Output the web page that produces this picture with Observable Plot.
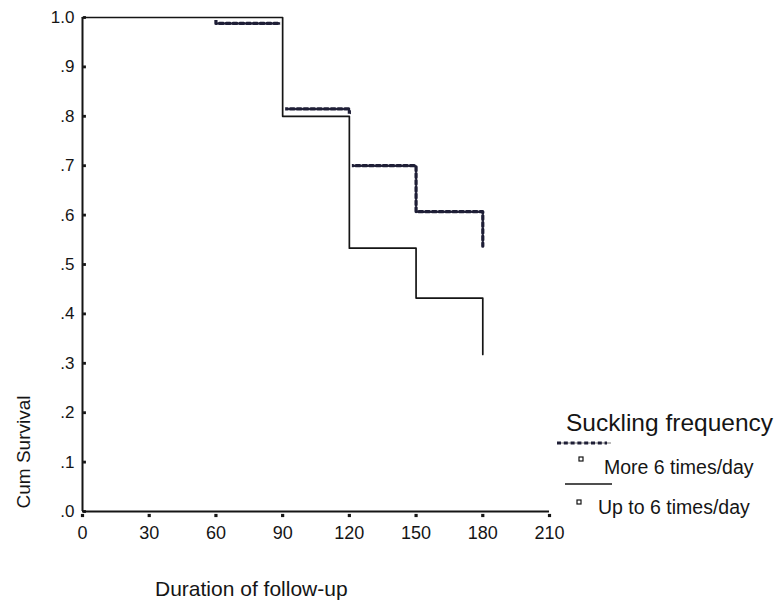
<!DOCTYPE html>
<html><head><meta charset="utf-8">
<script src="https://cdn.jsdelivr.net/npm/d3@7"></script>
<script src="https://cdn.jsdelivr.net/npm/@observablehq/plot@0.6"></script>
<style>
body{margin:0;background:#fff;}
#wrap{position:relative;width:781px;height:603px;font-family:"Liberation Sans",Arial,sans-serif;color:#1a1a1a;}
#overlay{position:absolute;left:0;top:0;pointer-events:none;}
</style></head><body>
<div id="wrap"></div>
<script>
// Series: "More 6 times/day" (dotted)
const moreDays = [0, 60, 90, 120, 150, 180];
const moreSurv = [1.0, 0.988, 0.815, 0.70, 0.607, 0.537];
// Series: "Up to 6 times/day" (solid)
const upToDays = [0, 90, 120, 150, 180];
const upToSurv = [1.0, 0.80, 0.533, 0.432, 0.318];
// Axis ticks
const xTicks = [0, 30, 60, 90, 120, 150, 180, 210];
const yTicks = [0, 0.1, 0.2, 0.3, 0.4, 0.5, 0.6, 0.7, 0.8, 0.9, 1.0];
const yTickLabels = [".0", ".1", ".2", ".3", ".4", ".5", ".6", ".7", ".8", ".9", "1.0"];
// Texts
const xTitle = "Duration of follow-up";
const yTitle = "Cum Survival";
const legendTitle = "Suckling frequency";
const seriesNames = ["More 6 times/day", "Up to 6 times/day"];

const more = moreDays.map((d, i) => ({t: d, s: moreSurv[i]}));
const upTo = upToDays.map((d, i) => ({t: d, s: upToSurv[i]}));
const ink = "#151515";

const chart = Plot.plot({
  width: 781, height: 603,
  marginLeft: 82, marginRight: 232, marginTop: 17, marginBottom: 92,
  style: {fontFamily: '"Liberation Sans", Arial, sans-serif', color: ink, background: "transparent", overflow: "visible"},
  x: {domain: [0, 210]},
  y: {domain: [0, 1]},
  marks: [
    Plot.axisX(xTicks, {tickSize: 0, tickPadding: 15, fontSize: 18, label: null}),
    Plot.axisY(yTicks, {tickSize: 0, tickPadding: 8, fontSize: 17, label: null,
      tickFormat: d => yTickLabels[Math.round(d * 10)]}),
    Plot.line(more, {x: "t", y: "s", curve: "step-after", stroke: "#555", strokeWidth: 0.8}),
    Plot.line(more, {x: "t", y: "s", curve: "step-after", stroke: "#1e1e36", strokeWidth: 3.2, strokeDasharray: "4,2.8"}),
    Plot.line(upTo, {x: "t", y: "s", curve: "step-after", stroke: "white", strokeWidth: 5}),
    Plot.line(upTo, {x: "t", y: "s", curve: "step-after", stroke: ink, strokeWidth: 1.7}),
    Plot.ruleX([0], {stroke: ink, strokeWidth: 2}),
    Plot.ruleY([0], {stroke: ink, strokeWidth: 2}),
    Plot.dot(xTicks, {x: d => d, y: 0, symbol: "square", r: 1.8, fill: ink, stroke: null, dy: 4}),
    Plot.dot(yTicks, {x: 0, y: d => d, symbol: "square", r: 1.6, fill: ink, stroke: null, dx: 2})
  ]
});
const wrap = document.getElementById("wrap");
wrap.appendChild(chart);

const ns = "http://www.w3.org/2000/svg";
const ov = document.createElementNS(ns, "svg");
ov.setAttribute("id", "overlay");
ov.setAttribute("width", 781); ov.setAttribute("height", 603);
ov.setAttribute("font-family", '"Liberation Sans", Arial, sans-serif');
ov.setAttribute("fill", ink);
function add(tag, attrs, text) {
  const el = document.createElementNS(ns, tag);
  for (const k in attrs) el.setAttribute(k, attrs[k]);
  if (text != null) el.textContent = text;
  ov.appendChild(el);
  return el;
}
add("text", {x: 155, y: 596, "font-size": 21}, xTitle);
add("text", {x: -452, y: 30, "font-size": 19, "text-anchor": "middle", transform: "rotate(-90)"}, yTitle);
add("text", {x: 566, y: 431, "font-size": 24.5}, legendTitle);
add("line", {x1: 557, x2: 611, y1: 443, y2: 443, stroke: "#555", "stroke-width": 0.8});
add("line", {x1: 557, x2: 607, y1: 443, y2: 443, stroke: "#1e1e36", "stroke-width": 3, "stroke-dasharray": "4,2.8"});
add("rect", {x: 579, y: 457, width: 4, height: 4, fill: "#fff", stroke: ink, "stroke-width": 1.2});
add("text", {x: 604, y: 474, "font-size": 19.5}, seriesNames[0]);
add("line", {x1: 565, x2: 612, y1: 484, y2: 484, stroke: ink, "stroke-width": 1.7});
add("rect", {x: 577, y: 500, width: 4, height: 4, fill: "#fff", stroke: ink, "stroke-width": 1.2});
add("text", {x: 598, y: 514, "font-size": 19.5}, seriesNames[1]);
wrap.appendChild(ov);
</script>
</body></html>
